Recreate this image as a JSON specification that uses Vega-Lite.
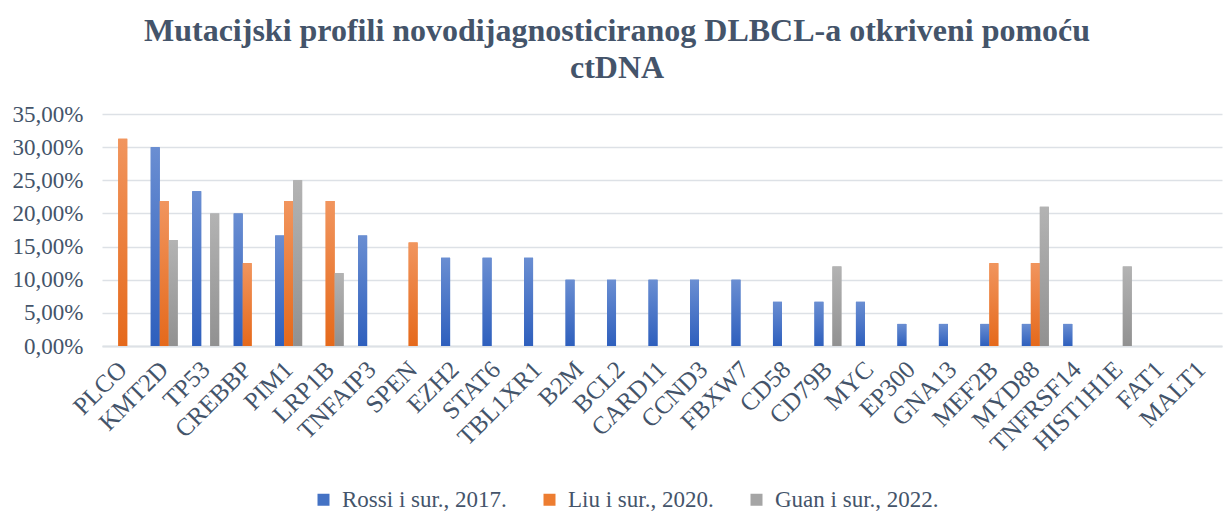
{
  "$schema": "https://vega.github.io/schema/vega-lite/v6.json",
  "width": 1120,
  "height": 232,
  "padding": {"left": 12, "top": 15, "right": 2, "bottom": 0},
  "background": "white",
  "config": {
    "locale": {"number": {"decimal": ",", "thousands": ".", "grouping": [3], "currency": ["", " €"]}},
    "font": "Liberation Serif",
    "view": {"stroke": null}
  },
  "title": {
    "text": ["Mutacijski profili novodijagnosticiranog DLBCL-a otkriveni pomoću", "ctDNA"],
    "font": "Liberation Serif",
    "fontSize": 32,
    "fontWeight": "bold",
    "color": "#44546A",
    "anchor": "middle",
    "frame": "bounds",
    "offset": 18,
    "lineHeight": 37
  },
  "data": {
    "values": [
      {"gene": "PLCO", "study": "Liu i sur., 2020.", "value": 0.3125},
      {"gene": "KMT2D", "study": "Rossi i sur., 2017.", "value": 0.30},
      {"gene": "KMT2D", "study": "Liu i sur., 2020.", "value": 0.21875},
      {"gene": "KMT2D", "study": "Guan i sur., 2022.", "value": 0.16},
      {"gene": "TP53", "study": "Rossi i sur., 2017.", "value": 0.2333},
      {"gene": "TP53", "study": "Guan i sur., 2022.", "value": 0.20},
      {"gene": "CREBBP", "study": "Rossi i sur., 2017.", "value": 0.20},
      {"gene": "CREBBP", "study": "Liu i sur., 2020.", "value": 0.125},
      {"gene": "PIM1", "study": "Rossi i sur., 2017.", "value": 0.1667},
      {"gene": "PIM1", "study": "Liu i sur., 2020.", "value": 0.21875},
      {"gene": "PIM1", "study": "Guan i sur., 2022.", "value": 0.25},
      {"gene": "LRP1B", "study": "Liu i sur., 2020.", "value": 0.21875},
      {"gene": "LRP1B", "study": "Guan i sur., 2022.", "value": 0.11},
      {"gene": "TNFAIP3", "study": "Rossi i sur., 2017.", "value": 0.1667},
      {"gene": "SPEN", "study": "Liu i sur., 2020.", "value": 0.15625},
      {"gene": "EZH2", "study": "Rossi i sur., 2017.", "value": 0.1333},
      {"gene": "STAT6", "study": "Rossi i sur., 2017.", "value": 0.1333},
      {"gene": "TBL1XR1", "study": "Rossi i sur., 2017.", "value": 0.1333},
      {"gene": "B2M", "study": "Rossi i sur., 2017.", "value": 0.10},
      {"gene": "BCL2", "study": "Rossi i sur., 2017.", "value": 0.10},
      {"gene": "CARD11", "study": "Rossi i sur., 2017.", "value": 0.10},
      {"gene": "CCND3", "study": "Rossi i sur., 2017.", "value": 0.10},
      {"gene": "FBXW7", "study": "Rossi i sur., 2017.", "value": 0.10},
      {"gene": "CD58", "study": "Rossi i sur., 2017.", "value": 0.0667},
      {"gene": "CD79B", "study": "Rossi i sur., 2017.", "value": 0.0667},
      {"gene": "CD79B", "study": "Guan i sur., 2022.", "value": 0.12},
      {"gene": "MYC", "study": "Rossi i sur., 2017.", "value": 0.0667},
      {"gene": "EP300", "study": "Rossi i sur., 2017.", "value": 0.0333},
      {"gene": "GNA13", "study": "Rossi i sur., 2017.", "value": 0.0333},
      {"gene": "MEF2B", "study": "Rossi i sur., 2017.", "value": 0.0333},
      {"gene": "MEF2B", "study": "Liu i sur., 2020.", "value": 0.125},
      {"gene": "MYD88", "study": "Rossi i sur., 2017.", "value": 0.0333},
      {"gene": "MYD88", "study": "Liu i sur., 2020.", "value": 0.125},
      {"gene": "MYD88", "study": "Guan i sur., 2022.", "value": 0.21},
      {"gene": "TNFRSF14", "study": "Rossi i sur., 2017.", "value": 0.0333},
      {"gene": "HIST1H1E", "study": "Guan i sur., 2022.", "value": 0.12}
    ]
  },
  "encoding": {
    "x": {
      "field": "gene",
      "type": "nominal",
      "sort": null,
      "scale": {
        "domain": ["PLCO", "KMT2D", "TP53", "CREBBP", "PIM1", "LRP1B", "TNFAIP3", "SPEN", "EZH2", "STAT6", "TBL1XR1", "B2M", "BCL2", "CARD11", "CCND3", "FBXW7", "CD58", "CD79B", "MYC", "EP300", "GNA13", "MEF2B", "MYD88", "TNFRSF14", "HIST1H1E", "FAT1", "MALT1"],
        "paddingInner": 0.35,
        "paddingOuter": 0.175
      },
      "axis": {
        "title": null,
        "labelAngle": -45,
        "labelAlign": "right",
        "labelBaseline": "middle",
        "labelFont": "Liberation Serif",
        "labelFontSize": 25,
        "labelColor": "#44546A",
        "labelLimit": 300,
        "domainColor": "#dde1e6",
        "domainWidth": 2,
        "ticks": false,
        "labelPadding": 19,
        "grid": false
      }
    },
    "xOffset": {
      "field": "study",
      "type": "nominal",
      "scale": {"domain": ["Rossi i sur., 2017.", "Liu i sur., 2020.", "Guan i sur., 2022."]}
    },
    "y": {
      "field": "value",
      "type": "quantitative",
      "scale": {"domain": [0, 0.35], "nice": false},
      "axis": {
        "title": null,
        "values": [0, 0.05, 0.1, 0.15, 0.2, 0.25, 0.3, 0.35],
        "format": ".2%",
        "domain": false,
        "ticks": false,
        "grid": true,
        "gridColor": "#dde1e6",
        "gridWidth": 1.5,
        "labelFont": "Liberation Serif",
        "labelFontSize": 23,
        "labelColor": "#44546A",
        "labelPadding": 19
      }
    }
  },
  "layer": [
    {
      "mark": {"type": "bar"},
      "encoding": {
        "color": {
          "field": "study",
          "type": "nominal",
          "scale": {
            "domain": ["Rossi i sur., 2017.", "Liu i sur., 2020.", "Guan i sur., 2022."],
            "range": ["#4472C4", "#ED7D31", "#A5A5A5"]
          },
          "legend": {
            "orient": "none",
            "legendX": 210,
            "legendY": 374,
            "direction": "horizontal",
            "title": null,
            "symbolType": "square",
            "symbolSize": 144,
            "symbolStrokeWidth": 0,
            "labelFont": "Liberation Serif",
            "labelFontSize": 23,
            "labelColor": "#44546A",
            "labelLimit": 400,
            "labelOffset": 7,
            "columnPadding": 31
          }
        }
      }
    },
    {
      "transform": [{"filter": "datum.study === 'Rossi i sur., 2017.'"}],
      "mark": {
        "type": "bar",
        "color": {"gradient": "linear", "x1": 0, "y1": 0, "x2": 0, "y2": 1,
          "stops": [{"offset": 0, "color": "#6a8ed2"}, {"offset": 1, "color": "#2e5fbd"}]}
      }
    },
    {
      "transform": [{"filter": "datum.study === 'Liu i sur., 2020.'"}],
      "mark": {
        "type": "bar",
        "color": {"gradient": "linear", "x1": 0, "y1": 0, "x2": 0, "y2": 1,
          "stops": [{"offset": 0, "color": "#f1955e"}, {"offset": 1, "color": "#e5691b"}]}
      }
    },
    {
      "transform": [{"filter": "datum.study === 'Guan i sur., 2022.'"}],
      "mark": {
        "type": "bar",
        "color": {"gradient": "linear", "x1": 0, "y1": 0, "x2": 0, "y2": 1,
          "stops": [{"offset": 0, "color": "#b3b3b3"}, {"offset": 1, "color": "#919191"}]}
      }
    }
  ]
}
